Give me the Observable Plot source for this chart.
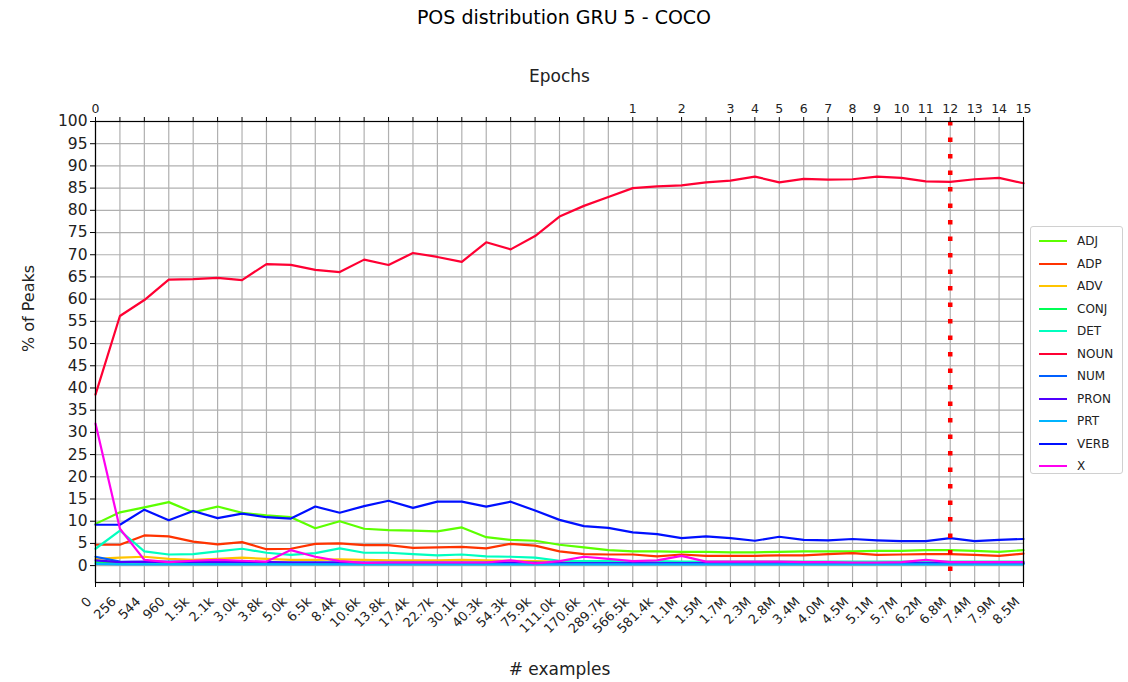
<!DOCTYPE html>
<html><head><meta charset="utf-8">
<script src="https://cdn.jsdelivr.net/npm/d3@7"></script>
<script src="https://cdn.jsdelivr.net/npm/@observablehq/plot@0.6"></script>
<style>
body{margin:0;background:#fff;font-family:"DejaVu Sans",sans-serif;}
#wrap{position:relative;width:1128px;height:682px;}
#title{position:absolute;left:0;width:1128px;top:6px;text-align:center;font-size:19px;color:#000;}
#legend{position:absolute;left:1030px;top:226px;width:93px;height:248px;border:1px solid #d0d0d0;border-radius:3px;background:#fff;box-sizing:border-box;padding-top:3px;}
.li{height:22.5px;display:flex;align-items:center;font-size:12px;color:#222;}
.sw{width:28px;height:0;border-top:2px solid;margin-left:8px;margin-right:10px;}
</style></head>
<body>
<div id="wrap"><div id="title">POS distribution GRU 5 - COCO</div><div id="legend"></div></div>
<script>
const exampleLabels = ["0","256","544","960","1.5k","2.1k","3.0k","3.8k","5.0k","6.5k","8.4k","10.6k","13.8k","17.4k","22.7k","30.1k","40.3k","54.3k","75.9k","111.0k","170.6k","289.7k","566.5k","581.4k","1.1M","1.5M","1.7M","2.3M","2.8M","3.4M","4.0M","4.5M","5.1M","5.7M","6.2M","6.8M","7.4M","7.9M","8.5M"];
const epochIndex = [0,22,24,26,27,28,29,30,31,32,33,34,35,36,37,38];
const epochLabels = ["0","1","2","3","4","5","6","7","8","9","10","11","12","13","14","15"];
const markedEpochIndex = 35;

const seriesNames = ["ADJ","ADP","ADV","CONJ","DET","NOUN","NUM","PRON","PRT","VERB","X"];
const seriesColors = ["#5cff00","#ff3300","#ffc400","#00ff55","#00ffbf","#ff0033","#0060ff","#5000ff","#00b4ff","#0010ff","#ff00f0"];

const ADJ  = [9.4,12.0,13.1,14.3,12.0,13.3,11.9,11.3,10.9,8.4,10.0,8.3,8.0,7.9,7.7,8.6,6.4,5.8,5.6,4.7,4.1,3.5,3.2,3.2,3.1,3.1,3.0,3.0,3.1,3.2,3.2,3.2,3.3,3.3,3.5,3.5,3.3,3.1,3.5];
const ADP  = [4.7,4.7,6.8,6.6,5.4,4.8,5.3,3.7,3.8,4.9,5.0,4.6,4.6,4.0,4.1,4.2,3.9,4.9,4.5,3.2,2.6,2.5,2.5,2.1,2.5,2.2,2.2,2.2,2.3,2.3,2.6,2.8,2.4,2.5,2.6,2.6,2.4,2.2,2.7];
const ADV  = [1.5,1.8,2.0,1.5,1.3,1.5,1.8,1.5,1.3,1.3,1.4,1.3,1.2,1.2,1.2,1.3,1.2,1.1,1.0,0.9,0.8,0.8,0.8,0.8,0.8,0.8,0.8,0.8,0.8,0.8,0.8,0.8,0.8,0.8,0.8,0.8,0.8,0.8,0.8];
const CONJ = [0.8,0.6,0.7,0.6,0.6,0.6,0.7,0.6,0.6,0.6,0.6,0.6,0.6,0.6,0.6,0.6,0.6,0.6,0.6,0.6,0.6,0.6,0.6,0.6,0.6,0.6,0.6,0.6,0.6,0.6,0.6,0.6,0.6,0.6,0.6,0.6,0.6,0.6,0.6];
const DET  = [3.8,7.9,3.2,2.5,2.6,3.2,3.8,2.9,2.4,2.8,3.9,2.9,2.9,2.6,2.3,2.5,2.1,2.0,1.8,1.1,1.0,1.0,0.9,1.0,0.9,0.9,0.9,0.9,0.9,0.9,0.9,0.9,0.9,0.9,0.9,0.9,0.9,0.9,0.9];
const NOUN = [38.5,56.2,59.8,64.4,64.5,64.8,64.3,67.9,67.7,66.6,66.1,68.9,67.7,70.4,69.5,68.4,72.8,71.2,74.2,78.6,81.0,83.0,85.0,85.4,85.6,86.3,86.7,87.6,86.3,87.1,86.9,87.0,87.6,87.3,86.5,86.4,87.0,87.3,86.1];
const NUM  = [2.0,0.9,0.8,0.9,0.9,0.8,0.8,0.8,0.7,0.7,0.7,0.6,0.6,0.6,0.6,0.6,0.6,0.6,0.6,0.5,0.5,0.5,0.5,0.5,0.5,0.5,0.5,0.5,0.5,0.5,0.5,0.5,0.5,0.5,0.5,0.5,0.5,0.5,0.5];
const PRON = [1.2,0.8,0.9,0.8,0.8,0.8,0.8,0.8,0.7,0.7,0.7,0.6,0.6,0.6,0.6,0.6,0.6,0.6,0.6,0.5,0.5,0.5,0.5,0.5,0.5,0.5,0.5,0.5,0.5,0.5,0.5,0.5,0.5,0.5,0.5,0.5,0.5,0.5,0.5];
const PRT  = [0.4,0.3,0.3,0.3,0.3,0.3,0.3,0.3,0.3,0.3,0.3,0.3,0.3,0.3,0.3,0.3,0.3,0.3,0.3,0.3,0.3,0.3,0.3,0.3,0.3,0.3,0.3,0.3,0.3,0.3,0.3,0.3,0.3,0.3,0.3,0.3,0.3,0.3,0.3];
const VERB = [9.2,9.2,12.6,10.2,12.3,10.7,11.7,10.9,10.6,13.3,11.9,13.4,14.6,13.0,14.4,14.4,13.3,14.4,12.4,10.3,8.9,8.5,7.5,7.1,6.2,6.6,6.2,5.6,6.5,5.8,5.7,6.0,5.7,5.5,5.5,6.2,5.5,5.8,6.0];
const X    = [32.0,8.3,1.3,0.8,1.1,1.3,1.1,0.9,3.5,2.0,1.0,0.6,0.7,0.7,0.7,0.7,0.7,1.2,0.5,1.0,2.0,1.5,1.0,1.2,2.2,0.9,0.9,0.9,0.9,0.8,0.8,0.7,0.7,0.8,1.3,0.8,0.8,0.8,0.8];

const yTicks = d3.range(0, 101, 5);

const seriesValues = {ADJ,ADP,ADV,CONJ,DET,NOUN,NUM,PRON,PRT,VERB,X};
const rows = [];
seriesNames.forEach(s => seriesValues[s].forEach((v,i) => rows.push({series:s, i, v})));

const font = "DejaVu Sans, sans-serif";
const idx = d3.range(exampleLabels.length);
const chart = Plot.plot({
  width: 1128, height: 682,
  marginLeft: 95, marginRight: 105, marginTop: 121, marginBottom: 100,
  style: {fontFamily: font, color: "#222", background: "transparent"},
  x: {type: "linear", domain: [0, exampleLabels.length - 1]},
  y: {domain: [-3.8, 100]},
  color: {domain: seriesNames, range: seriesColors},
  marks: [
    Plot.gridX(idx, {stroke: "#b0b0b0", strokeOpacity: 1, strokeWidth: 1.2}),
    Plot.gridY(yTicks, {stroke: "#b0b0b0", strokeOpacity: 1, strokeWidth: 1.2}),
    Plot.line(rows, {x: "i", y: "v", stroke: "series", z: "series", strokeWidth: 2.2}),
    Plot.ruleX([markedEpochIndex], {stroke: "#ff0000", strokeWidth: 4.5, strokeDasharray: "4.5 12"}),
    Plot.frame({stroke: "#000", strokeWidth: 1.2}),
    Plot.axisY(yTicks, {anchor: "left", tickSize: 5, tickPadding: 3, fontSize: 15.5, label: null, stroke: "#000"}),
    Plot.axisX(idx, {anchor: "bottom", tickSize: 5, label: null, stroke: "#000", tickFormat: () => ""}),
    Plot.axisX(idx, {anchor: "bottom", tickSize: 0, tickPadding: 2, tickRotate: -45, fontSize: 13, label: null, tickFormat: i => exampleLabels[i], dx: -6, dy: 15}),
    Plot.axisX(idx, {anchor: "top", tickSize: 5, tickPadding: 4, fontSize: 12.5, label: null, stroke: "#000",
      tickFormat: i => { const k = epochIndex.indexOf(i); return k >= 0 ? epochLabels[k] : ""; }}),
    Plot.text(["Epochs"], {frameAnchor: "top", dy: -52, fontSize: 17, fill: "#222"}),
    Plot.text(["# examples"], {frameAnchor: "bottom", dy: 92, fontSize: 17, fill: "#222"}),
    Plot.text(["% of Peaks"], {frameAnchor: "left", dx: -67, rotate: -90, fontSize: 16, fill: "#222"})
  ]
});
document.getElementById("wrap").prepend(chart);
chart.style.position = "absolute"; chart.style.left = "0"; chart.style.top = "0";

const lg = document.getElementById("legend");
seriesNames.forEach((s, k) => {
  const d = document.createElement("div"); d.className = "li";
  const sw = document.createElement("span"); sw.className = "sw"; sw.style.borderTopColor = seriesColors[k];
  const t = document.createElement("span"); t.textContent = s;
  d.append(sw, t); lg.append(d);
});
</script>
</body></html>
